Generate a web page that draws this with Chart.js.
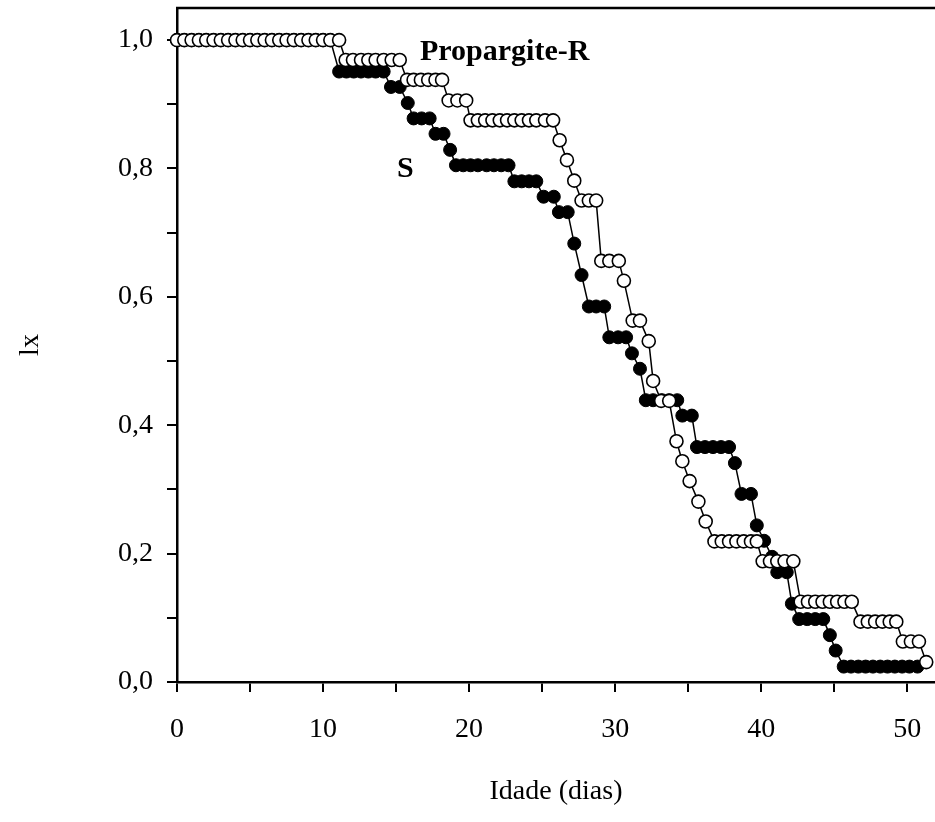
<!DOCTYPE html>
<html>
<head>
<meta charset="utf-8">
<script src="https://cdn.jsdelivr.net/npm/chart.js@4/dist/chart.umd.min.js"></script>
<style>
  html, body { margin: 0; padding: 0; background: #fff; }
  #wrap { width: 935px; height: 822px; }
</style>
</head>
<body>
<div id="wrap"><canvas id="lxChart" width="935" height="822"></canvas></div>
<script>
// Propargite-R (open circles)
const rDays = [
  0, 0.5, 1, 1.5, 2, 2.5, 3, 3.5, 4, 4.5, 5, 5.5, 6, 6.5, 7, 7.5, 8, 8.5, 9, 9.5, 10, 10.5, 11.1,
  11.55, 12.05, 12.6, 13.1, 13.6, 14.15, 14.7, 15.25,
  15.75, 16.2, 16.7, 17.2, 17.7, 18.15,
  18.6, 19.2, 19.8,
  20.1, 20.6, 21.1, 21.6, 22.1, 22.6, 23.1, 23.6, 24.1, 24.6, 25.2, 25.75,
  26.2, 26.7, 27.2,
  27.7, 28.2, 28.7,
  29.05, 29.6, 30.25,
  30.6,
  31.2, 31.7,
  32.3,
  32.6,
  33.15, 33.7,
  34.2, 34.6, 35.1, 35.7, 36.2,
  36.8, 37.3, 37.8, 38.3, 38.8, 39.3, 39.7,
  40.1, 40.6, 41.1, 41.6, 42.2,
  42.7, 43.2, 43.7, 44.2, 44.7, 45.2, 45.7, 46.2,
  46.8, 47.3, 47.8, 48.3, 48.8, 49.25,
  49.7, 50.25, 50.8,
  51.3
];
const rLx = [
  1, 1, 1, 1, 1, 1, 1, 1, 1, 1, 1, 1, 1, 1, 1, 1, 1, 1, 1, 1, 1, 1, 1,
  0.969, 0.969, 0.969, 0.969, 0.969, 0.969, 0.969, 0.969,
  0.938, 0.938, 0.938, 0.938, 0.938, 0.938,
  0.906, 0.906, 0.906,
  0.875, 0.875, 0.875, 0.875, 0.875, 0.875, 0.875, 0.875, 0.875, 0.875, 0.875, 0.875,
  0.844, 0.813, 0.781,
  0.75, 0.75, 0.75,
  0.656, 0.656, 0.656,
  0.625,
  0.563, 0.563,
  0.531,
  0.469,
  0.438, 0.438,
  0.375, 0.344, 0.313, 0.281, 0.25,
  0.219, 0.219, 0.219, 0.219, 0.219, 0.219, 0.219,
  0.188, 0.188, 0.188, 0.188, 0.188,
  0.125, 0.125, 0.125, 0.125, 0.125, 0.125, 0.125, 0.125,
  0.094, 0.094, 0.094, 0.094, 0.094, 0.094,
  0.063, 0.063, 0.063,
  0.031
];

// S (filled circles)
const sDays = [
  0, 0.5, 1, 1.5, 2, 2.5, 3, 3.5, 4, 4.5, 5, 5.5, 6, 6.5, 7, 7.5, 8, 8.5, 9, 9.5, 10, 10.5,
  11.1, 11.6, 12.1, 12.6, 13.1, 13.6, 14.15,
  14.65, 15.25,
  15.8,
  16.2, 16.75, 17.3,
  17.7, 18.25,
  18.7,
  19.1, 19.6, 20.1, 20.6, 21.2, 21.7, 22.2, 22.7,
  23.1, 23.6, 24.1, 24.6,
  25.1, 25.8,
  26.15, 26.75,
  27.2, 27.7,
  28.2, 28.7, 29.25,
  29.6, 30.2, 30.75,
  31.15, 31.7,
  32.1, 32.6, 33.2, 33.7, 34.25,
  34.6, 35.25,
  35.6, 36.15, 36.7, 37.25, 37.8,
  38.2,
  38.65, 39.3,
  39.7, 40.2, 40.75,
  41.1, 41.75,
  42.1,
  42.6, 43.15, 43.7, 44.25,
  44.7, 45.1,
  45.65, 46.15, 46.65, 47.15, 47.65, 48.15, 48.65, 49.15, 49.65, 50.15, 50.7
];
const sLx = [
  1, 1, 1, 1, 1, 1, 1, 1, 1, 1, 1, 1, 1, 1, 1, 1, 1, 1, 1, 1, 1, 1,
  0.951, 0.951, 0.951, 0.951, 0.951, 0.951, 0.951,
  0.927, 0.927,
  0.902,
  0.878, 0.878, 0.878,
  0.854, 0.854,
  0.829,
  0.805, 0.805, 0.805, 0.805, 0.805, 0.805, 0.805, 0.805,
  0.780, 0.780, 0.780, 0.780,
  0.756, 0.756,
  0.732, 0.732,
  0.683, 0.634,
  0.585, 0.585, 0.585,
  0.537, 0.537, 0.537,
  0.512, 0.488,
  0.439, 0.439, 0.439, 0.439, 0.439,
  0.415, 0.415,
  0.366, 0.366, 0.366, 0.366, 0.366,
  0.341,
  0.293, 0.293,
  0.244, 0.220, 0.195,
  0.171, 0.171,
  0.122,
  0.098, 0.098, 0.098, 0.098,
  0.073, 0.049,
  0.024, 0.024, 0.024, 0.024, 0.024, 0.024, 0.024, 0.024, 0.024, 0.024, 0.024
];

const xTicks = [0, 5, 10, 15, 20, 25, 30, 35, 40, 45, 50];
const xLabelTicks = [0, 10, 20, 30, 40, 50];
const yTicks = [0, 0.1, 0.2, 0.3, 0.4, 0.5, 0.6, 0.7, 0.8, 0.9, 1.0];
const yLabelTicks = [0, 0.2, 0.4, 0.6, 0.8, 1.0];

const serif = "'Liberation Serif', 'Times New Roman', serif";

function toPoints(xs, ys) {
  return xs.map((x, i) => ({ x: x, y: ys[i] }));
}

// top frame line and the two series labels
const frameAndLabels = {
  id: 'frameAndLabels',
  afterDraw(chart) {
    const ctx = chart.ctx;
    const area = chart.chartArea;
    ctx.save();
    ctx.strokeStyle = '#000';
    ctx.lineWidth = 2.5;
    ctx.beginPath();
    ctx.moveTo(area.left - 1, area.top);
    ctx.lineTo(chart.width, area.top);
    ctx.stroke();
    ctx.fillStyle = '#000';
    ctx.font = 'bold 30px ' + serif;
    ctx.textBaseline = 'alphabetic';
    ctx.textAlign = 'left';
    ctx.fillText('Propargite-R', 420, 60);
    ctx.fillText('S', 397, 177);
    ctx.restore();
  }
};

new Chart(document.getElementById('lxChart'), {
  type: 'scatter',
  data: {
    datasets: [
      {
        label: 'Propargite-R',
        data: toPoints(rDays, rLx),
        showLine: true,
        borderColor: '#000',
        borderWidth: 1.5,
        pointRadius: 6.5,
        pointBorderWidth: 1.6,
        pointBackgroundColor: '#fff',
        pointBorderColor: '#000',
        clip: false
      },
      {
        label: 'S',
        data: toPoints(sDays, sLx),
        showLine: true,
        borderColor: '#000',
        borderWidth: 1.5,
        pointRadius: 6.5,
        pointBorderWidth: 1,
        pointBackgroundColor: '#000',
        pointBorderColor: '#000',
        clip: false
      }
    ]
  },
  options: {
    responsive: false,
    animation: false,
    layout: { autoPadding: false, padding: { top: 8, right: 0, bottom: 0, left: 0 } },
    plugins: {
      legend: { display: false },
      tooltip: { enabled: false }
    },
    scales: {
      x: {
        type: 'linear',
        min: 0,
        max: 51.9,
        afterFit(scale) {
          scale.height = 140;
          scale.paddingLeft = 0;
          scale.paddingRight = 0;
        },
        afterBuildTicks(scale) { scale.ticks = xTicks.map(v => ({ value: v })); },
        border: { color: '#000', width: 2.5 },
        grid: { drawOnChartArea: false, drawTicks: true, tickLength: 10, color: '#000', lineWidth: 2 },
        ticks: {
          color: '#000',
          padding: 21,
          maxRotation: 0,
          font: { family: serif, size: 28 },
          callback: v => xLabelTicks.includes(v) ? String(v) : ''
        },
        title: {
          display: true,
          text: 'Idade (dias)',
          color: '#000',
          font: { family: serif, size: 28 },
          padding: { top: 0, bottom: 14 }
        }
      },
      y: {
        type: 'linear',
        min: 0,
        max: 1.05,
        afterFit(scale) {
          scale.width = 177;
          scale.paddingTop = 0;
          scale.paddingBottom = 0;
        },
        afterBuildTicks(scale) { scale.ticks = yTicks.map(v => ({ value: v })); },
        border: { color: '#000', width: 2.5 },
        grid: { drawOnChartArea: false, drawTicks: true, tickLength: 10, color: '#000', lineWidth: 2 },
        ticks: {
          color: '#000',
          padding: 14,
          font: { family: serif, size: 28 },
          callback: v => yLabelTicks.some(t => Math.abs(t - v) < 1e-9) ? v.toFixed(1).replace('.', ',') : ''
        },
        title: {
          display: true,
          text: 'lx',
          color: '#000',
          font: { family: serif, size: 28 },
          padding: { top: 14, bottom: 0 }
        }
      }
    }
  },
  plugins: [frameAndLabels]
});
</script>
</body>
</html>
